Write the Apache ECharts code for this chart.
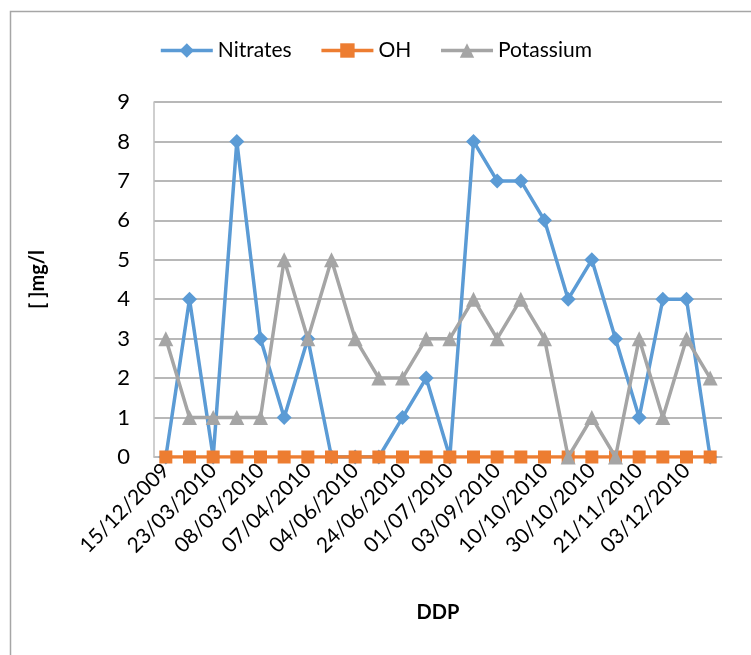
<!DOCTYPE html>
<html>
<head>
<meta charset="utf-8">
<script src="https://cdn.jsdelivr.net/npm/echarts@6/dist/echarts.min.js"></script>
<style>html,body{margin:0;padding:0;background:#fff;}#c{width:751px;height:655px;}</style>
</head>
<body>
<div id="c"></div>
<script>
var categories = ["15/12/2009","12/01/2010","23/03/2010","02/03/2010","08/03/2010","24/03/2010","07/04/2010","13/05/2010","04/06/2010","15/06/2010","24/06/2010","28/06/2010","01/07/2010","20/07/2010","03/09/2010","21/09/2010","10/10/2010","18/10/2010","30/10/2010","09/11/2010","21/11/2010","28/11/2010","03/12/2010","12/12/2010"];
var nitrates = [0,4,0,8,3,1,3,0,0,0,1,2,0,8,7,7,6,4,5,3,1,4,4,0];
var oh = [0,0,0,0,0,0,0,0,0,0,0,0,0,0,0,0,0,0,0,0,0,0,0,0];
var potassium = [3,1,1,1,1,5,3,5,3,2,2,3,3,4,3,4,3,0,1,0,3,1,3,2];
var yTicks = [0,1,2,3,4,5,6,7,8,9];

var FONT = 'Lato, "Open Sans", sans-serif';
var chart = echarts.init(document.getElementById('c'));
chart.setOption({
  animation: false,
  graphic: [{
    type: 'rect', shape: {x: 10.5, y: 11.5, width: 800, height: 700},
    style: {fill: 'none', stroke: '#a6a6a6', lineWidth: 1.5}, silent: true, z: -1
  }],
  legend: {
    top: 35, left: 'center',
    itemWidth: 52, itemHeight: 18, itemGap: 28,
    lineStyle: {width: 3.5},
    textStyle: {fontFamily: FONT, fontSize: 21, color: '#000'},
    data: ['Nitrates','OH','Potassium']
  },
  grid: {left: 154, top: 102, right: 29, bottom: 198, containLabel: false},
  xAxis: {
    type: 'category', data: categories, boundaryGap: true,
    name: 'DDP', nameLocation: 'middle', nameGap: 146,
    nameTextStyle: {fontFamily: FONT, fontSize: 20, fontWeight: 'bold', color: '#000'},
    axisLine: {lineStyle: {color: '#bfbfbf', width: 1.5}},
    axisTick: {show: false},
    axisLabel: {interval: 1, rotate: 45, margin: 10, fontFamily: FONT, fontSize: 21, color: '#000',
      padding: [0, 0, 0, 0]},
    offset: 0
  },
  yAxis: {
    type: 'value', min: 0, max: 9, interval: 1,
    name: '[ ]mg/l', nameLocation: 'middle', nameGap: 106, nameRotate: 90,
    nameTextStyle: {fontFamily: FONT, fontSize: 20, fontWeight: 'bold', color: '#000'},
    axisLine: {show: true, lineStyle: {color: '#bfbfbf', width: 1.5}},
    axisTick: {show: false},
    axisLabel: {margin: 24, fontFamily: FONT, fontSize: 22, color: '#000',
      formatter: function(v){ return yTicks.indexOf(v) >= 0 ? String(v) : ''; }},
    splitLine: {lineStyle: {color: '#a0a0a0', width: 1.5}}
  },
  series: [
    {name: 'Nitrates', type: 'line', data: nitrates, symbol: 'diamond', symbolSize: 15,
     lineStyle: {color: '#5b9bd5', width: 3.5}, itemStyle: {color: '#5b9bd5'}, z: 2},
    {name: 'OH', type: 'line', data: oh, symbol: 'rect', symbolSize: 13,
     lineStyle: {color: '#ed7d31', width: 3.5}, itemStyle: {color: '#ed7d31'}, z: 3},
    {name: 'Potassium', type: 'line', data: potassium, symbol: 'triangle', symbolSize: 15,
     lineStyle: {color: '#a5a5a5', width: 3.5}, itemStyle: {color: '#a5a5a5'}, z: 4}
  ]
});
</script>
</body>
</html>
